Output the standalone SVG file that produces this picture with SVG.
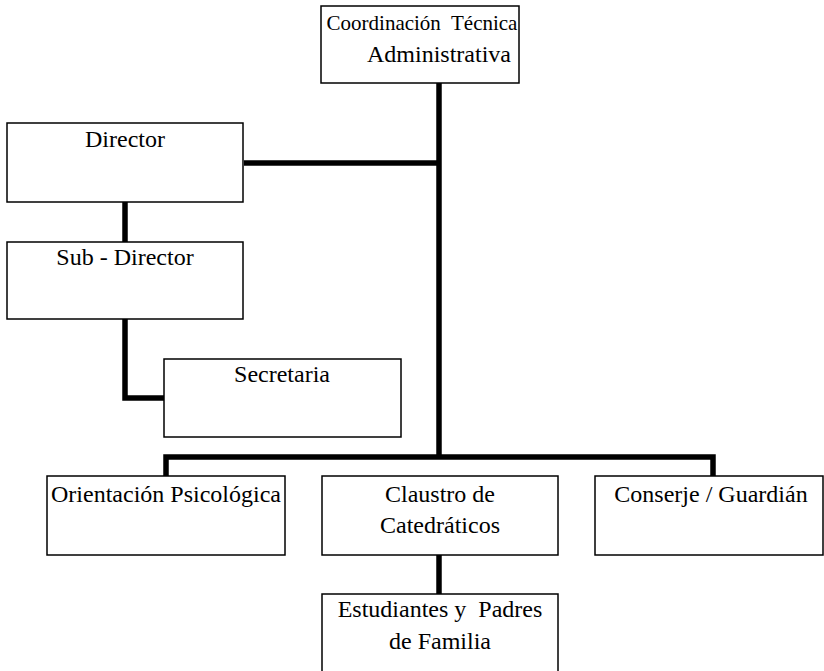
<svg xmlns="http://www.w3.org/2000/svg" width="824" height="671" viewBox="0 0 824 671">
<style>
.box{fill:#fff;stroke:#000;stroke-width:1.5}
.t{font-family:"Liberation Serif","Times New Roman",serif;font-size:24px;fill:#000;text-anchor:middle;white-space:pre}
.s{font-size:21px}
.ln{fill:none;stroke:#000;stroke-width:5.5;stroke-linecap:butt;stroke-linejoin:miter}
</style>
<rect width="824" height="671" fill="#fff"/>
<g id="connectors">
<path class="ln" d="M439 83 V457"/>
<path class="ln" d="M244 163 H439"/>
<path class="ln" d="M125 202 V242"/>
<path class="ln" d="M125 319 V398 H165"/>
<path class="ln" d="M166 476 V457 H713 V476"/>
<path class="ln" d="M439 555 V594"/>
</g>
<g id="coordinacion">
<rect class="box" x="321" y="6" width="198" height="77"/>
<text class="t s" x="422" y="30" xml:space="preserve">Coordinación  Técnica</text>
<text class="t" x="439" y="62">Administrativa</text>
</g>
<g id="director">
<rect class="box" x="7" y="123" width="236" height="79"/>
<text class="t" x="125" y="147">Director</text>
</g>
<g id="subdirector">
<rect class="box" x="7" y="242" width="236" height="77"/>
<text class="t" x="125" y="265">Sub - Director</text>
</g>
<g id="secretaria">
<rect class="box" x="164" y="359" width="237" height="78"/>
<text class="t" x="282" y="382">Secretaria</text>
</g>
<g id="orientacion">
<rect class="box" x="47" y="476" width="238" height="79"/>
<text class="t" x="166" y="502">Orientación Psicológica</text>
</g>
<g id="claustro">
<rect class="box" x="322" y="476" width="236" height="79"/>
<text class="t" x="440" y="502">Claustro de</text>
<text class="t" x="440" y="533">Catedráticos</text>
</g>
<g id="conserje">
<rect class="box" x="595" y="476" width="228" height="79"/>
<text class="t" x="711" y="502">Conserje / Guardián</text>
</g>
<g id="estudiantes">
<rect class="box" x="322" y="594" width="236" height="80"/>
<text class="t" x="440" y="617" xml:space="preserve">Estudiantes y  Padres</text>
<text class="t" x="440" y="649">de Familia</text>
</g>
</svg>
